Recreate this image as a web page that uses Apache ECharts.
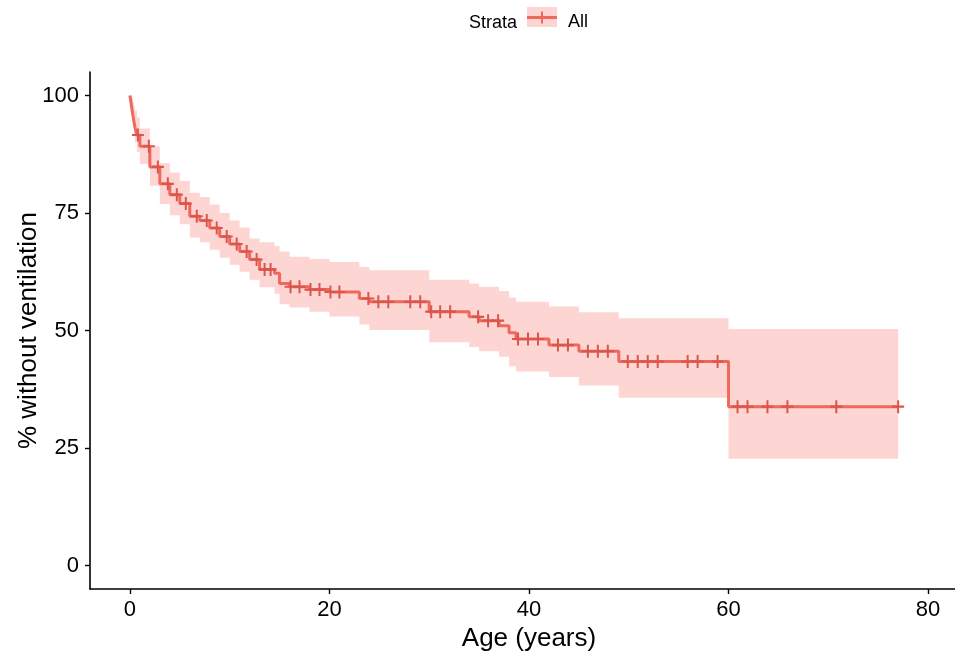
<!DOCTYPE html>
<html><head><meta charset="utf-8">
<script src="https://cdn.jsdelivr.net/npm/echarts@6/dist/echarts.min.js"></script>
<style>html,body{margin:0;padding:0;background:#fff}#c{width:955px;height:651px}</style>
</head><body><div id="c"></div>
<script>
// Kaplan-Meier step points (time in years, % without ventilation)
const times = [0, 0.1, 0.2, 0.3, 0.4, 0.5, 0.7, 1, 2, 3, 4, 5, 6, 7, 8, 9, 10, 11, 12, 13, 14.5, 15, 16, 18, 20, 23, 24, 30, 34, 35, 37, 38, 38.7, 42, 45, 49, 60];
const surv  = [100, 98.6, 97.2, 95.8, 94.5, 93.3, 91.6, 89.2, 84.8, 81.2, 78.9, 77.0, 74.3, 73.4, 71.8, 70.0, 68.4, 66.8, 65.1, 63.0, 62.2, 60.0, 59.3, 58.7, 58.2, 56.8, 56.1, 54.0, 52.9, 52.1, 51.0, 49.5, 48.2, 46.9, 45.6, 43.4, 33.8];
const lower = [100, 97.2, 95.0, 93.2, 91.5, 90.0, 88.0, 85.4, 80.8, 76.9, 74.5, 72.6, 69.8, 68.8, 67.2, 65.5, 64.0, 62.5, 60.8, 59.2, 57.8, 55.6, 54.9, 54.0, 53.0, 51.3, 50.1, 47.5, 46.5, 45.6, 44.4, 42.4, 41.3, 40.1, 38.3, 35.7, 22.7];
const upper = [100, 100, 99.5, 98.7, 97.8, 96.8, 95.3, 93.0, 89.2, 85.6, 83.6, 81.8, 79.3, 78.4, 76.8, 75.0, 73.4, 71.9, 69.6, 68.8, 68.0, 66.8, 65.7, 65.2, 64.6, 63.5, 62.8, 60.8, 60.0, 59.3, 58.4, 57.0, 56.1, 55.1, 53.9, 52.6, 50.3];
const endTime = 77;
const censorTimes = [0.8, 1.9, 2.8, 3.8, 4.7, 5.6, 6.7, 7.7, 8.7, 9.7, 10.7, 11.7, 12.7, 13.5, 14.1, 16.1, 17, 18.1, 19, 20.1, 21, 23.9, 24.9, 25.9, 28.1, 29.1, 30.2, 31.1, 32.1, 34.9, 35.9, 36.9, 38.9, 39.9, 40.9, 42.9, 43.9, 45.9, 46.9, 47.9, 49.9, 50.9, 51.9, 52.9, 55.9, 56.9, 58.9, 60.9, 61.9, 63.9, 65.9, 70.8, 77];
const xTicks = [0, 20, 40, 60, 80];
const yTicks = [0, 25, 50, 75, 100];
const strataName = 'All';

const lineColor = '#F0675C';
const bandColor = 'rgba(248,118,109,0.3)';
const fontFam = 'Liberation Sans, Arial, sans-serif';

function survAt(t) {
  let s = surv[0];
  for (let i = 0; i < times.length; i++) if (times[i] <= t) s = surv[i];
  return s;
}
const survLine = times.map((t, i) => [t, surv[i]]).concat([[endTime, surv[surv.length - 1]]]);
const censorData = censorTimes.map(t => [t, survAt(t)]);

const chart = echarts.init(document.getElementById('c'));
chart.setOption({
  animation: false,
  backgroundColor: '#fff',
  grid: { left: 90, right: -13, top: 72, bottom: 62, containLabel: false, outerBoundsMode: 'none' },
  xAxis: {
    type: 'value', min: -4, max: 84,
    splitLine: { show: false },
    axisLine: { onZero: false, lineStyle: { color: '#000', width: 1.6 } },
    axisTick: { customValues: xTicks, length: 5, lineStyle: { color: '#000', width: 1.4 } },
    axisLabel: { customValues: xTicks, fontSize: 22, color: '#000', margin: 10, fontFamily: fontFam },
    name: 'Age (years)', nameLocation: 'middle', nameGap: 34,
    nameTextStyle: { fontSize: 26, color: '#000', fontFamily: fontFam }
  },
  yAxis: {
    type: 'value', min: -5, max: 105,
    splitLine: { show: false },
    axisLine: { onZero: false, lineStyle: { color: '#000', width: 1.6 } },
    axisTick: { customValues: yTicks, length: 5, lineStyle: { color: '#000', width: 1.4 } },
    axisLabel: { customValues: yTicks, fontSize: 22, color: '#000', margin: 11, fontFamily: fontFam },
    name: '% without ventilation', nameLocation: 'middle', nameGap: 48, nameMoveOverlap: false,
    nameTextStyle: { fontSize: 26, color: '#000', fontFamily: fontFam }
  },
  legend: {
    left: 527, top: 7, padding: 0,
    itemWidth: 36, itemHeight: 30,
    selectedMode: false,
    itemStyle: { borderWidth: 0 },
    textStyle: { fontSize: 18, color: '#000', fontFamily: fontFam },
    data: [{ name: strataName, icon: 'path://M0,0H0.01V0.01H0Z M35.99,29.99H36V30H35.99Z M0,9H30V12H0Z M14,4.5H16V16.5H14Z' }]
  },
  graphic: [
    { type: 'rect', left: 527, top: 7, z: 0, shape: { width: 30, height: 20 }, style: { fill: bandColor } },
    { type: 'text', right: 955 - 517, top: 14, style: { text: 'Strata', fontSize: 18, fill: '#000', fontFamily: fontFam } }
  ],
  series: [
    {
      type: 'custom', name: 'CI', silent: true, z: 1, clip: true,
      data: [[0]],
      renderItem: function (params, api) {
        const top = [], bot = [];
        for (let i = 0; i < times.length; i++) {
          const tEnd = i + 1 < times.length ? times[i + 1] : endTime;
          top.push(api.coord([times[i], upper[i]]));
          top.push(api.coord([tEnd, upper[i]]));
          bot.push(api.coord([times[i], lower[i]]));
          bot.push(api.coord([tEnd, lower[i]]));
        }
        const pts = top.concat(bot.reverse());
        return { type: 'polygon', shape: { points: pts }, style: { fill: bandColor } };
      }
    },
    {
      type: 'line', name: strataName, step: 'end', z: 3,
      data: survLine, showSymbol: false, symbol: 'none',
      color: lineColor,
      itemStyle: { color: lineColor },
      lineStyle: { color: lineColor, width: 3 }
    },
    {
      type: 'scatter', name: 'censor', z: 4, silent: true,
      data: censorData,
      symbol: 'path://M5,0H7V12H5Z M0,5H12V7H0Z',
      symbolSize: [12, 13],
      itemStyle: { color: '#D9564C', opacity: 1 }
    }
  ]
});
</script>
</body></html>
